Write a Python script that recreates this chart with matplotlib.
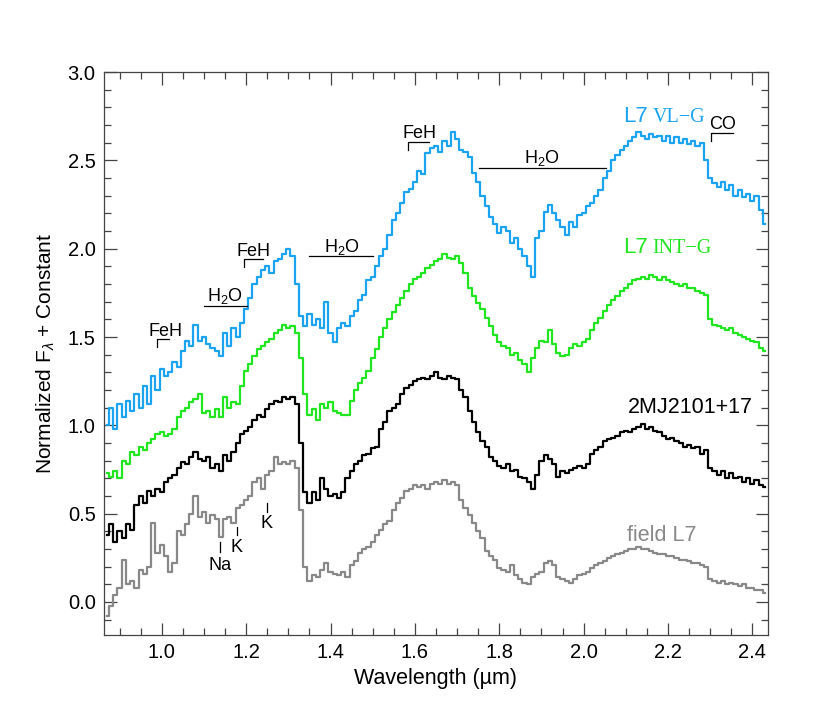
import numpy as np
import matplotlib
matplotlib.use("Agg")
import matplotlib.pyplot as plt
from matplotlib.ticker import MultipleLocator

plt.rcParams['font.family'] = ['Liberation Sans', 'DejaVu Sans']
plt.rcParams['mathtext.fontset'] = 'custom'
plt.rcParams['mathtext.rm'] = 'Liberation Sans'
plt.rcParams['mathtext.it'] = 'Liberation Sans:italic'

# wavelength grid (micron), 0.87 .. 2.43
wave = np.round(np.arange(0.87, 2.4351, 0.01), 3)

# L7 VL-G (offset spectrum)
flux_vlg = [
    1.00, 1.10, 0.98, 1.12, 1.05, 1.14, 1.08, 1.18, 1.10, 1.22,
    1.12, 1.28, 1.20, 1.32, 1.28, 1.30, 1.36, 1.33, 1.42, 1.48,
    1.45, 1.57, 1.48, 1.50, 1.46, 1.44, 1.42, 1.39, 1.52, 1.45,
    1.55, 1.50, 1.58, 1.66, 1.72, 1.80, 1.84, 1.88, 1.90, 1.86,
    1.93, 1.94, 1.97, 2.00, 1.96, 1.80, 1.62, 1.56, 1.63, 1.57,
    1.60, 1.55, 1.70, 1.52, 1.47, 1.55, 1.58, 1.56, 1.62, 1.65,
    1.71, 1.74, 1.82, 1.84, 1.90, 1.96, 2.00, 2.08, 2.16, 2.20,
    2.26, 2.32, 2.34, 2.38, 2.44, 2.42, 2.54, 2.57, 2.58, 2.55,
    2.61, 2.58, 2.66, 2.62, 2.56, 2.55, 2.52, 2.43, 2.38, 2.30,
    2.24, 2.18, 2.14, 2.09, 2.12, 2.10, 2.03, 2.06, 2.00, 1.96,
    1.90, 1.84, 2.06, 2.10, 2.21, 2.25, 2.20, 2.16, 2.12, 2.08,
    2.15, 2.12, 2.19, 2.20, 2.24, 2.26, 2.30, 2.33, 2.40, 2.44,
    2.50, 2.53, 2.56, 2.58, 2.61, 2.63, 2.66, 2.64, 2.62, 2.65,
    2.63, 2.64, 2.61, 2.64, 2.60, 2.63, 2.60, 2.62, 2.59, 2.61,
    2.58, 2.60, 2.50, 2.40, 2.37, 2.35, 2.38, 2.33, 2.36, 2.30,
    2.33, 2.29, 2.31, 2.27, 2.30, 2.22, 2.14]

# L7 INT-G
flux_intg = [
    0.73, 0.71, 0.74, 0.70, 0.80, 0.78, 0.85, 0.83, 0.88, 0.86,
    0.90, 0.92, 0.95, 0.96, 0.94, 0.95, 0.98, 1.05, 1.08, 1.10,
    1.13, 1.15, 1.18, 1.07, 1.08, 1.05, 1.09, 1.05, 1.16, 1.10,
    1.13, 1.12, 1.22, 1.31, 1.35, 1.39, 1.43, 1.45, 1.47, 1.49,
    1.52, 1.54, 1.57, 1.55, 1.56, 1.52, 1.38, 1.18, 1.06, 1.09,
    1.03, 1.12, 1.10, 1.13, 1.08, 1.07, 1.06, 1.06, 1.14, 1.20,
    1.24, 1.27, 1.31, 1.38, 1.43, 1.50, 1.55, 1.60, 1.64, 1.68,
    1.72, 1.76, 1.80, 1.83, 1.84, 1.86, 1.89, 1.91, 1.93, 1.94,
    1.97, 1.95, 1.94, 1.96, 1.92, 1.86, 1.78, 1.73, 1.69, 1.66,
    1.61, 1.56, 1.51, 1.47, 1.45, 1.44, 1.40, 1.41, 1.37, 1.35,
    1.30, 1.38, 1.44, 1.48, 1.47, 1.54, 1.46, 1.41, 1.39, 1.40,
    1.44, 1.46, 1.45, 1.47, 1.49, 1.54, 1.58, 1.61, 1.65, 1.68,
    1.71, 1.73, 1.76, 1.78, 1.80, 1.82, 1.83, 1.84, 1.83, 1.85,
    1.84, 1.82, 1.84, 1.82, 1.81, 1.80, 1.79, 1.80, 1.78, 1.78,
    1.76, 1.75, 1.74, 1.60, 1.57, 1.56, 1.55, 1.54, 1.55, 1.52,
    1.51, 1.50, 1.49, 1.48, 1.47, 1.44, 1.42]

# 2MASS J2101+17
flux_2m = [
    0.38, 0.44, 0.34, 0.40, 0.36, 0.44, 0.41, 0.55, 0.60, 0.56,
    0.63, 0.60, 0.64, 0.62, 0.68, 0.70, 0.72, 0.76, 0.79, 0.78,
    0.82, 0.85, 0.81, 0.80, 0.82, 0.76, 0.78, 0.74, 0.83, 0.80,
    0.85, 0.90, 0.95, 0.97, 0.99, 1.03, 1.06, 1.05, 1.09, 1.12,
    1.14, 1.13, 1.16, 1.15, 1.16, 1.12, 0.90, 0.62, 0.56, 0.62,
    0.58, 0.70, 0.64, 0.60, 0.61, 0.59, 0.62, 0.70, 0.74, 0.78,
    0.80, 0.83, 0.84, 0.87, 0.88, 0.98, 1.02, 1.08, 1.10, 1.12,
    1.18, 1.21, 1.23, 1.25, 1.26, 1.27, 1.26, 1.28, 1.30, 1.27,
    1.26, 1.28, 1.27, 1.26, 1.20, 1.16, 1.08, 1.02, 0.96, 0.91,
    0.88, 0.82, 0.80, 0.77, 0.76, 0.78, 0.74, 0.75, 0.71, 0.70,
    0.68, 0.64, 0.72, 0.80, 0.83, 0.81, 0.78, 0.71, 0.74, 0.73,
    0.75, 0.76, 0.77, 0.76, 0.78, 0.84, 0.86, 0.88, 0.91, 0.92,
    0.93, 0.94, 0.96, 0.97, 0.96, 0.98, 0.99, 1.01, 0.98, 0.99,
    0.97, 0.96, 0.94, 0.92, 0.93, 0.91, 0.90, 0.88, 0.89, 0.87,
    0.88, 0.84, 0.86, 0.76, 0.74, 0.72, 0.74, 0.70, 0.73, 0.70,
    0.71, 0.68, 0.70, 0.67, 0.69, 0.66, 0.65]

# field L7
flux_field = [
    -0.08, -0.02, 0.04, 0.08, 0.24, 0.10, 0.12, 0.08, 0.18, 0.16,
    0.20, 0.45, 0.28, 0.32, 0.26, 0.17, 0.22, 0.40, 0.38, 0.44,
    0.50, 0.60, 0.48, 0.51, 0.45, 0.49, 0.47, 0.37, 0.47, 0.48,
    0.45, 0.53, 0.55, 0.58, 0.60, 0.68, 0.70, 0.64, 0.72, 0.74,
    0.82, 0.78, 0.79, 0.78, 0.80, 0.76, 0.52, 0.20, 0.12, 0.15,
    0.14, 0.18, 0.22, 0.17, 0.16, 0.15, 0.17, 0.14, 0.21, 0.23,
    0.28, 0.30, 0.31, 0.34, 0.38, 0.41, 0.44, 0.46, 0.52, 0.56,
    0.59, 0.63, 0.64, 0.66, 0.65, 0.66, 0.64, 0.67, 0.68, 0.67,
    0.69, 0.67, 0.68, 0.66, 0.58, 0.53, 0.49, 0.45, 0.40, 0.36,
    0.29, 0.26, 0.24, 0.19, 0.18, 0.17, 0.21, 0.15, 0.13, 0.11,
    0.10, 0.14, 0.16, 0.17, 0.22, 0.23, 0.21, 0.14, 0.13, 0.12,
    0.11, 0.13, 0.15, 0.16, 0.17, 0.19, 0.21, 0.22, 0.23, 0.25,
    0.26, 0.27, 0.28, 0.29, 0.30, 0.30, 0.31, 0.30, 0.30, 0.29,
    0.28, 0.27, 0.27, 0.26, 0.26, 0.25, 0.24, 0.24, 0.23, 0.22,
    0.22, 0.21, 0.20, 0.13, 0.12, 0.11, 0.12, 0.10, 0.11, 0.10,
    0.09, 0.10, 0.08, 0.08, 0.07, 0.07, 0.05]

blue = '#1aa3f0'
green = '#1fe61f'
gray = '#888888'

fig = plt.figure(figsize=(8.3, 7.26), dpi=100)
ax = fig.add_axes([0.1253, 0.1253, 0.8, 0.7755])

ax.step(wave, flux_field, where='mid', color=gray, lw=1.6)
ax.step(wave, flux_2m, where='mid', color='black', lw=1.6)
ax.step(wave, flux_intg, where='mid', color=green, lw=1.6)
ax.step(wave, flux_vlg, where='mid', color=blue, lw=1.6)

ax.set_xlim(0.863, 2.437)
ax.set_ylim(-0.187, 3.0)
ax.xaxis.set_major_locator(MultipleLocator(0.2))
ax.xaxis.set_minor_locator(MultipleLocator(0.05))
ax.yaxis.set_major_locator(MultipleLocator(0.5))
ax.yaxis.set_minor_locator(MultipleLocator(0.1))
ax.xaxis.set_major_formatter(matplotlib.ticker.FormatStrFormatter('%.1f'))
ax.yaxis.set_major_formatter(matplotlib.ticker.FormatStrFormatter('%.1f'))
ax.tick_params(which='both', direction='in', top=True, right=True,
               color='#444444', labelsize=14.5, width=0.9)
ax.tick_params(which='major', length=9, pad=6)
ax.tick_params(which='minor', length=5)
for sp in ax.spines.values():
    sp.set_color('#444444')
    sp.set_linewidth(0.9)

ax.set_xlabel('Wavelength (µm)', fontsize=15.5, labelpad=4)
ax.set_ylabel(r'Normalized F$_\lambda$ + Constant', fontsize=15, labelpad=8)

# band annotations: (label, x0, x1, y, text x, text baseline)
brackets = [
    ('FeH', 0.989, 1.018, 1.49, 1.009, 1.505),
    ('FeH', 1.195, 1.239, 1.94, 1.217, 1.958),
    ('FeH', 1.583, 1.633, 2.605, 1.610, 2.624),
    ('CO', 2.302, 2.353, 2.656, 2.330, 2.675),
]
for lab, x0, x1, y, tx, ty in brackets:
    ax.plot([x0, x0, x1], [y - 0.045, y, y], color='black', lw=0.9)
    ax.text(tx, ty, lab, ha='center', va='baseline', fontsize=13)

h2o_bands = [
    (1.101, 1.201, 1.677, 1.150, 1.705),
    (1.350, 1.500, 1.958, 1.427, 1.982),
    (1.753, 2.052, 2.458, 1.900, 2.486),
]
for x0, x1, y, tx, ty in h2o_bands:
    ax.plot([x0, x1], [y, y], color='black', lw=0.9)
    ax.text(tx, ty, r'H$_2$O', ha='center', va='baseline', fontsize=13)

atoms = [
    ('Na', 1.139, 0.285, 0.34, 0.181),
    ('K', 1.178, 0.38, 0.426, 0.285),
    ('K', 1.249, 0.51, 0.56, 0.417),
]
for lab, x, y0, y1, ty in atoms:
    ax.plot([x, x], [y0, y1], color='black', lw=0.9)
    ax.text(x, ty, lab, ha='center', va='baseline', fontsize=13)

# spectrum labels
ax.text(2.094, 2.716, 'L7', color=blue, fontsize=16, va='baseline')
ax.text(2.163, 2.716, 'VL\u2212G', color=blue, fontsize=14.5, va='baseline',
        family='Liberation Serif')
ax.text(2.094, 1.975, 'L7', color=green, fontsize=16, va='baseline')
ax.text(2.163, 1.975, 'INT\u2212G', color=green, fontsize=14.5, va='baseline',
        family='Liberation Serif')
ax.text(2.401, 1.07, '2MJ2101+17', color='black', fontsize=15.5,
        ha='right', va='baseline')
ax.text(2.268, 0.345, 'field L7', color=gray, fontsize=15.5,
        ha='right', va='baseline')

fig.savefig('out.png', dpi=100)
